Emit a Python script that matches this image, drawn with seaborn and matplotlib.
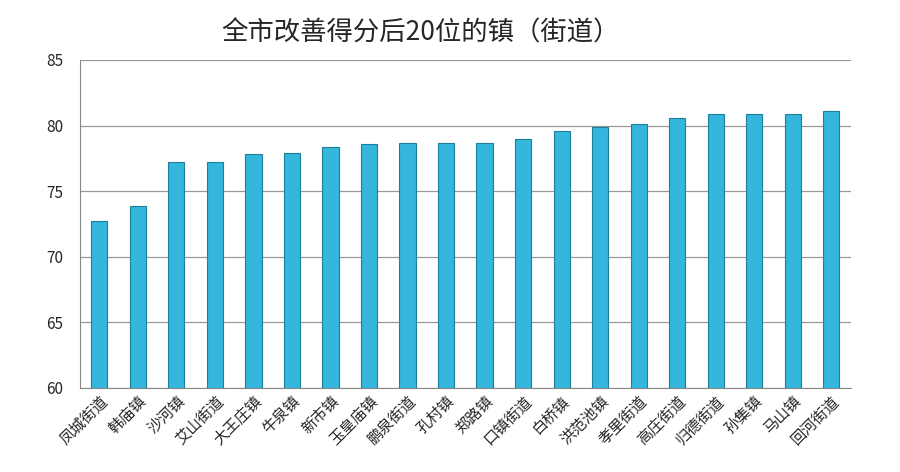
import matplotlib
matplotlib.use('Agg')
import matplotlib.pyplot as plt
import seaborn as sns
import pandas as pd

sns.set_style('white')
plt.rcParams['font.family'] = 'Noto Sans CJK SC'

towns = ['凤城街道', '韩庙镇', '沙河镇', '艾山街道', '大王庄镇', '牛泉镇', '新市镇', '玉皇庙镇',
         '鹏泉街道', '孔村镇', '郑路镇', '口镇街道', '白桥镇', '洪范池镇', '孝里街道', '高庄街道',
         '归德街道', '孙集镇', '马山镇', '回河街道']
scores = [72.7, 73.9, 77.2, 77.2, 77.8, 77.9, 78.4, 78.6, 78.7, 78.7,
          78.7, 79.0, 79.6, 79.9, 80.1, 80.6, 80.9, 80.9, 80.9, 81.1]

df = pd.DataFrame({'town': towns, 'score': scores})

fig, ax = plt.subplots(figsize=(9, 4.72), dpi=100)
fig.subplots_adjust(left=0.089, right=0.945, top=0.873, bottom=0.178)

sns.barplot(data=df, x='town', y='score', color='#35b6dc', width=0.42,
            edgecolor='#1e7f9c', linewidth=0.8, saturation=1, ax=ax)

ax.set_ylim(60, 85)
ax.set_yticks([60, 65, 70, 75, 80, 85])
ax.yaxis.grid(True, color='#999999', linewidth=0.9)
ax.set_axisbelow(True)
ax.set_xlabel('')
ax.set_ylabel('')
ax.tick_params(axis='y', labelsize=11, length=0, pad=12)
ax.tick_params(axis='x', labelsize=11, length=0)
plt.setp(ax.get_xticklabels(), rotation=45, ha='right', rotation_mode='anchor')
for s in ['top', 'right']:
    ax.spines[s].set_visible(False)
ax.spines['left'].set_color('#888888')
ax.spines['bottom'].set_color('#888888')

fig.text(0.467, 0.93, '全市改善得分后20位的镇（街道）', ha='center', va='center', fontsize=19)

plt.savefig('out.png')
plt.close()
